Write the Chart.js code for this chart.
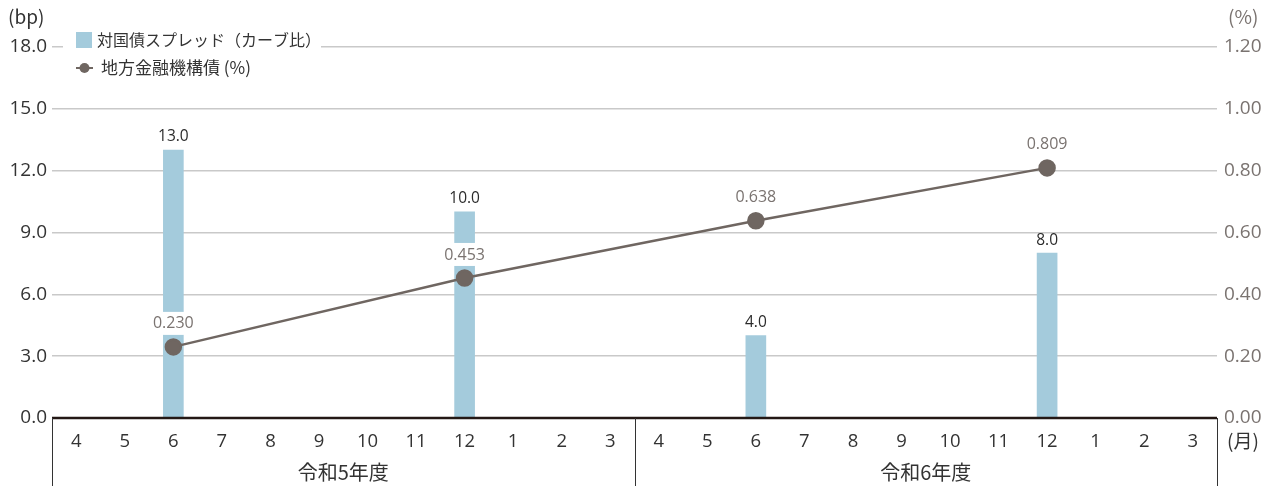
<!DOCTYPE html>
<html>
<head>
<meta charset="utf-8">
<script src="https://cdn.jsdelivr.net/npm/chart.js@4"></script>
<style>
  html, body { margin: 0; padding: 0; background: #fff; }
  #wrap { width: 1271px; height: 486px; }
</style>
</head>
<body>
<div id="wrap"><canvas id="chart" width="1271" height="486"></canvas></div>
<script>
// months for two fiscal years
let months = ["4", "5", "6", "7", "8", "9", "10", "11", "12", "1", "2", "3",
              "4", "5", "6", "7", "8", "9", "10", "11", "12", "1", "2", "3"];
let yearLabels = ["令和5年度", "令和6年度"];
// spread vs JGB (bp), only some months have a value
let spreadBp = [null, null, 13.0, null, null, null, null, null, 10.0, null, null, null,
                null, null, 4.0, null, null, null, null, null, 8.0, null, null, null];
// JFM bond yield (%)
let yieldPct = [null, null, 0.230, null, null, null, null, null, 0.453, null, null, null,
                null, null, 0.638, null, null, null, null, null, 0.809, null, null, null];
let seriesNames = ["対国債スプレッド（カーブ比）", "地方金融機構債 (%)"];

let barColor = "#a4cbdc";
let lineColor = "#6f6661";
let jpFont = "'Noto Sans CJK JP', 'Noto Sans', sans-serif";
let numFont = "'Open Sans', 'Noto Sans', sans-serif";

let extrasPlugin = {
  id: "extras",
  beforeDatasetsDraw: function (chart) {
    // legend box sits over the top gridline
    let ctx = chart.ctx;
    ctx.save();
    ctx.fillStyle = "#ffffff";
    ctx.fillRect(63, 28, 258, 52);
    ctx.restore();
  },
  afterDatasetsDraw: function (chart) {
    let ctx = chart.ctx;
    ctx.save();

    // bar value labels
    let barMeta = chart.getDatasetMeta(0);
    ctx.font = "15.5px " + numFont;
    ctx.fillStyle = "#2b2b2b";
    ctx.textAlign = "center";
    ctx.textBaseline = "middle";
    barMeta.data.forEach(function (el, i) {
      if (spreadBp[i] == null) return;
      ctx.fillText(spreadBp[i].toFixed(1), el.x, el.y - 13);
    });

    // line value labels with white background
    let lineMeta = chart.getDatasetMeta(1);
    ctx.font = "16px " + numFont;
    lineMeta.data.forEach(function (el, i) {
      if (yieldPct[i] == null) return;
      let txt = yieldPct[i].toFixed(3);
      let w = ctx.measureText(txt).width + 6;
      ctx.fillStyle = "#ffffff";
      ctx.fillRect(el.x - w / 2, el.y - 35, w, 23);
      ctx.fillStyle = "#7a7370";
      ctx.fillText(txt, el.x, el.y - 23);
    });

    // legend
    ctx.textAlign = "left";
    ctx.fillStyle = barColor;
    ctx.fillRect(76, 32, 16, 16);
    ctx.font = "16px " + jpFont;
    ctx.fillStyle = "#333333";
    ctx.fillText(seriesNames[0], 97, 40);
    ctx.strokeStyle = lineColor;
    ctx.lineWidth = 2;
    ctx.beginPath();
    ctx.moveTo(76, 68);
    ctx.lineTo(93, 68);
    ctx.stroke();
    ctx.fillStyle = lineColor;
    ctx.beginPath();
    ctx.arc(84.5, 68, 5, 0, Math.PI * 2);
    ctx.fill();
    ctx.font = "17px " + jpFont;
    ctx.fillStyle = "#333333";
    ctx.fillText(seriesNames[1], 101, 68);
    ctx.restore();
  },
  afterDraw: function (chart) {
    let ctx = chart.ctx;
    let area = chart.chartArea;
    let x = chart.scales.x;
    let half = (x.getPixelForValue(1) - x.getPixelForValue(0)) / 2;
    ctx.save();

    // baseline
    ctx.strokeStyle = "#231815";
    ctx.lineWidth = 2.5;
    ctx.beginPath();
    ctx.moveTo(area.left, area.bottom);
    ctx.lineTo(area.right, area.bottom);
    ctx.stroke();

    // separators for fiscal years
    ctx.lineWidth = 1;
    ctx.strokeStyle = "#333333";
    [0, 12, 24].forEach(function (i) {
      let px = Math.round(x.getPixelForValue(0) - half + i * half * 2) + 0.5;
      ctx.beginPath();
      ctx.moveTo(px, area.bottom);
      ctx.lineTo(px, chart.height);
      ctx.stroke();
    });

    // year labels
    ctx.font = "20px " + jpFont;
    ctx.fillStyle = "#333333";
    ctx.textAlign = "center";
    ctx.textBaseline = "middle";
    yearLabels.forEach(function (lbl, k) {
      let cx = (x.getPixelForValue(k * 12) + x.getPixelForValue(k * 12 + 11)) / 2;
      ctx.fillText(lbl, cx, area.bottom + 54);
    });

    // units
    ctx.textAlign = "left";
    ctx.font = "19px " + jpFont;
    ctx.fillText("(bp)", 8, 17);
    ctx.fillStyle = "#7a7370";
    ctx.fillText("(%)", 1228, 17);
    ctx.fillStyle = "#333333";
    ctx.fillText("(月)", 1227, area.bottom + 23);
    ctx.restore();
  },
};

let config = {
  type: "bar",
  data: {
    labels: months,
    datasets: [
      {
        label: seriesNames[0],
        data: spreadBp,
        backgroundColor: barColor,
        barThickness: 20,
        yAxisID: "y",
        order: 2,
      },
      {
        type: "line",
        label: seriesNames[1],
        data: yieldPct,
        borderColor: lineColor,
        backgroundColor: lineColor,
        borderWidth: 2.5,
        pointRadius: 7.5,
        pointHoverRadius: 7.5,
        spanGaps: true,
        yAxisID: "y1",
        order: 1,
      },
    ],
  },
  options: {
    responsive: false,
    animation: false,
    layout: { padding: { top: 47, bottom: 0, left: 0, right: 0 } },
    plugins: {
      legend: { display: false },
      tooltip: { enabled: false },
    },
    scales: {
      x: {
        grid: { display: false, drawTicks: false },
        border: { display: false },
        ticks: {
          color: "#333333",
          font: { family: numFont, size: 18.5 },
          padding: 13,
          maxRotation: 0,
          autoSkip: false,
        },
        afterFit: function (scale) {
          scale.height = 68;
        },
      },
      y: {
        position: "left",
        min: 0,
        max: 18,
        grid: { color: "#c9c9c9", lineWidth: 1.5, drawTicks: false },
        border: { display: false },
        ticks: {
          stepSize: 3,
          color: "#333333",
          font: { family: numFont, size: 19 },
          padding: 5,
          callback: function (value) {
            return value.toFixed(1);
          },
        },
        afterFit: function (scale) {
          scale.width = 52;
        },
      },
      y1: {
        position: "right",
        min: 0,
        max: 1.2,
        grid: { display: false, drawTicks: false },
        border: { display: false },
        ticks: {
          stepSize: 0.2,
          color: "#7a7370",
          font: { family: numFont, size: 19 },
          padding: 7,
          callback: function (value) {
            return value.toFixed(2);
          },
        },
        afterFit: function (scale) {
          scale.width = 54;
        },
      },
    },
  },
  plugins: [extrasPlugin],
};

let chart = new Chart(document.getElementById("chart"), config);
</script>
</body>
</html>
